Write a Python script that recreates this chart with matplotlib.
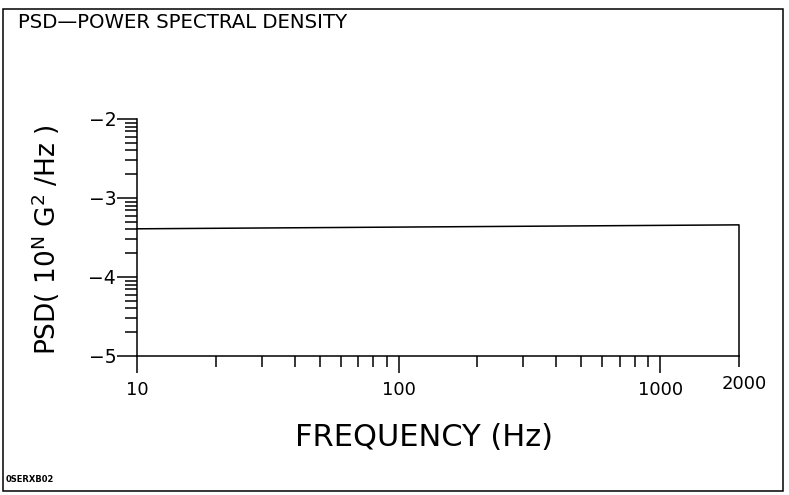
import numpy as np
import matplotlib.pyplot as plt
from matplotlib.patches import Rectangle
from matplotlib.ticker import FixedLocator, FixedFormatter
from matplotlib.transforms import ScaledTranslation

# PSD profile (frequency in Hz, log10 of PSD in G^2/Hz)
freq = [10, 2000, 2000]
psd_exp = [-3.39, -3.34, -5.0]

x_major = [10, 100, 1000]
x_major_labels = ["10", "100", "1000"]
x_minor = [20, 30, 40, 50, 60, 70, 80, 90,
           200, 300, 400, 500, 600, 700, 800, 900, 2000]
y_major = [-5, -4, -3, -2]
y_major_labels = ["\u22125", "\u22124", "\u22123", "\u22122"]

plt.rcParams['font.family'] = ['DejaVu Sans']

W, H = 789, 495
fig = plt.figure(figsize=(W / 100, H / 100), dpi=100)
ax = fig.add_axes([137 / W, 1 - 356 / H, (739 - 137) / W, (356 - 119) / H])

ax.plot(freq, psd_exp, color='black', lw=1.1, clip_on=False)

ax.set_xscale('log')
ax.set_xlim(10, 2000)
ax.set_ylim(-5, -2)

ax.xaxis.set_major_locator(FixedLocator(x_major))
ax.xaxis.set_major_formatter(FixedFormatter(x_major_labels))
ax.xaxis.set_minor_locator(FixedLocator(x_minor))
ax.xaxis.set_minor_formatter(FixedFormatter([""] * (len(x_minor) - 1) + ["2000"]))

# log-spaced minor ticks inside each decade of the exponent axis
y_minor = [n + np.log10(k) for n in (-5, -4, -3) for k in range(2, 10)]
ax.yaxis.set_major_locator(FixedLocator(y_major))
ax.yaxis.set_major_formatter(FixedFormatter(y_major_labels))
ax.yaxis.set_minor_locator(FixedLocator(y_minor))

ax.tick_params(axis='x', which='major', length=12, width=1.1, pad=6, labelsize=13)
ax.tick_params(axis='x', which='minor', length=8, width=1.1, pad=6, labelsize=13)
ax.tick_params(axis='y', which='major', length=14.5, width=1.1, pad=0.5, labelsize=13.5)
ax.tick_params(axis='y', which='minor', length=8.6, width=1.1)

# nudge the 2000 label a little right, like the plotter output
for t in ax.xaxis.get_minor_ticks()[-1:]:
    t.label1.set_horizontalalignment('left')
    t.label1.set_transform(t.label1.get_transform() +
                           ScaledTranslation(-17 / 100, 0, fig.dpi_scale_trans))

for s in ['top', 'right']:
    ax.spines[s].set_visible(False)
for s in ['left', 'bottom']:
    ax.spines[s].set_linewidth(1.1)

fig.text(424 / W, 1 - 437 / H, "FREQUENCY (Hz)", fontsize=22,
         ha='center', va='center')
fig.text(46 / W, 1 - 240 / H, "PSD( 10$^{\\mathrm{N}}$ G$^{\\mathrm{2}}$ /Hz )",
         fontsize=19, rotation=90, ha='center', va='center')

fig.text(18 / W, 1 - 22 / H, "PSD\u2014POWER SPECTRAL DENSITY", fontsize=14.2,
         ha='left', va='center')
fig.text(6 / W, 1 - 479 / H, "0SERXB02", fontsize=6, fontweight='bold',
         ha='left', va='center')

fig.patches.append(Rectangle((3 / W, 1 - 491 / H), 780 / W, 482 / H,
                             transform=fig.transFigure, fill=False,
                             edgecolor='black', lw=1.1))

fig.savefig("out.png", dpi=100)
